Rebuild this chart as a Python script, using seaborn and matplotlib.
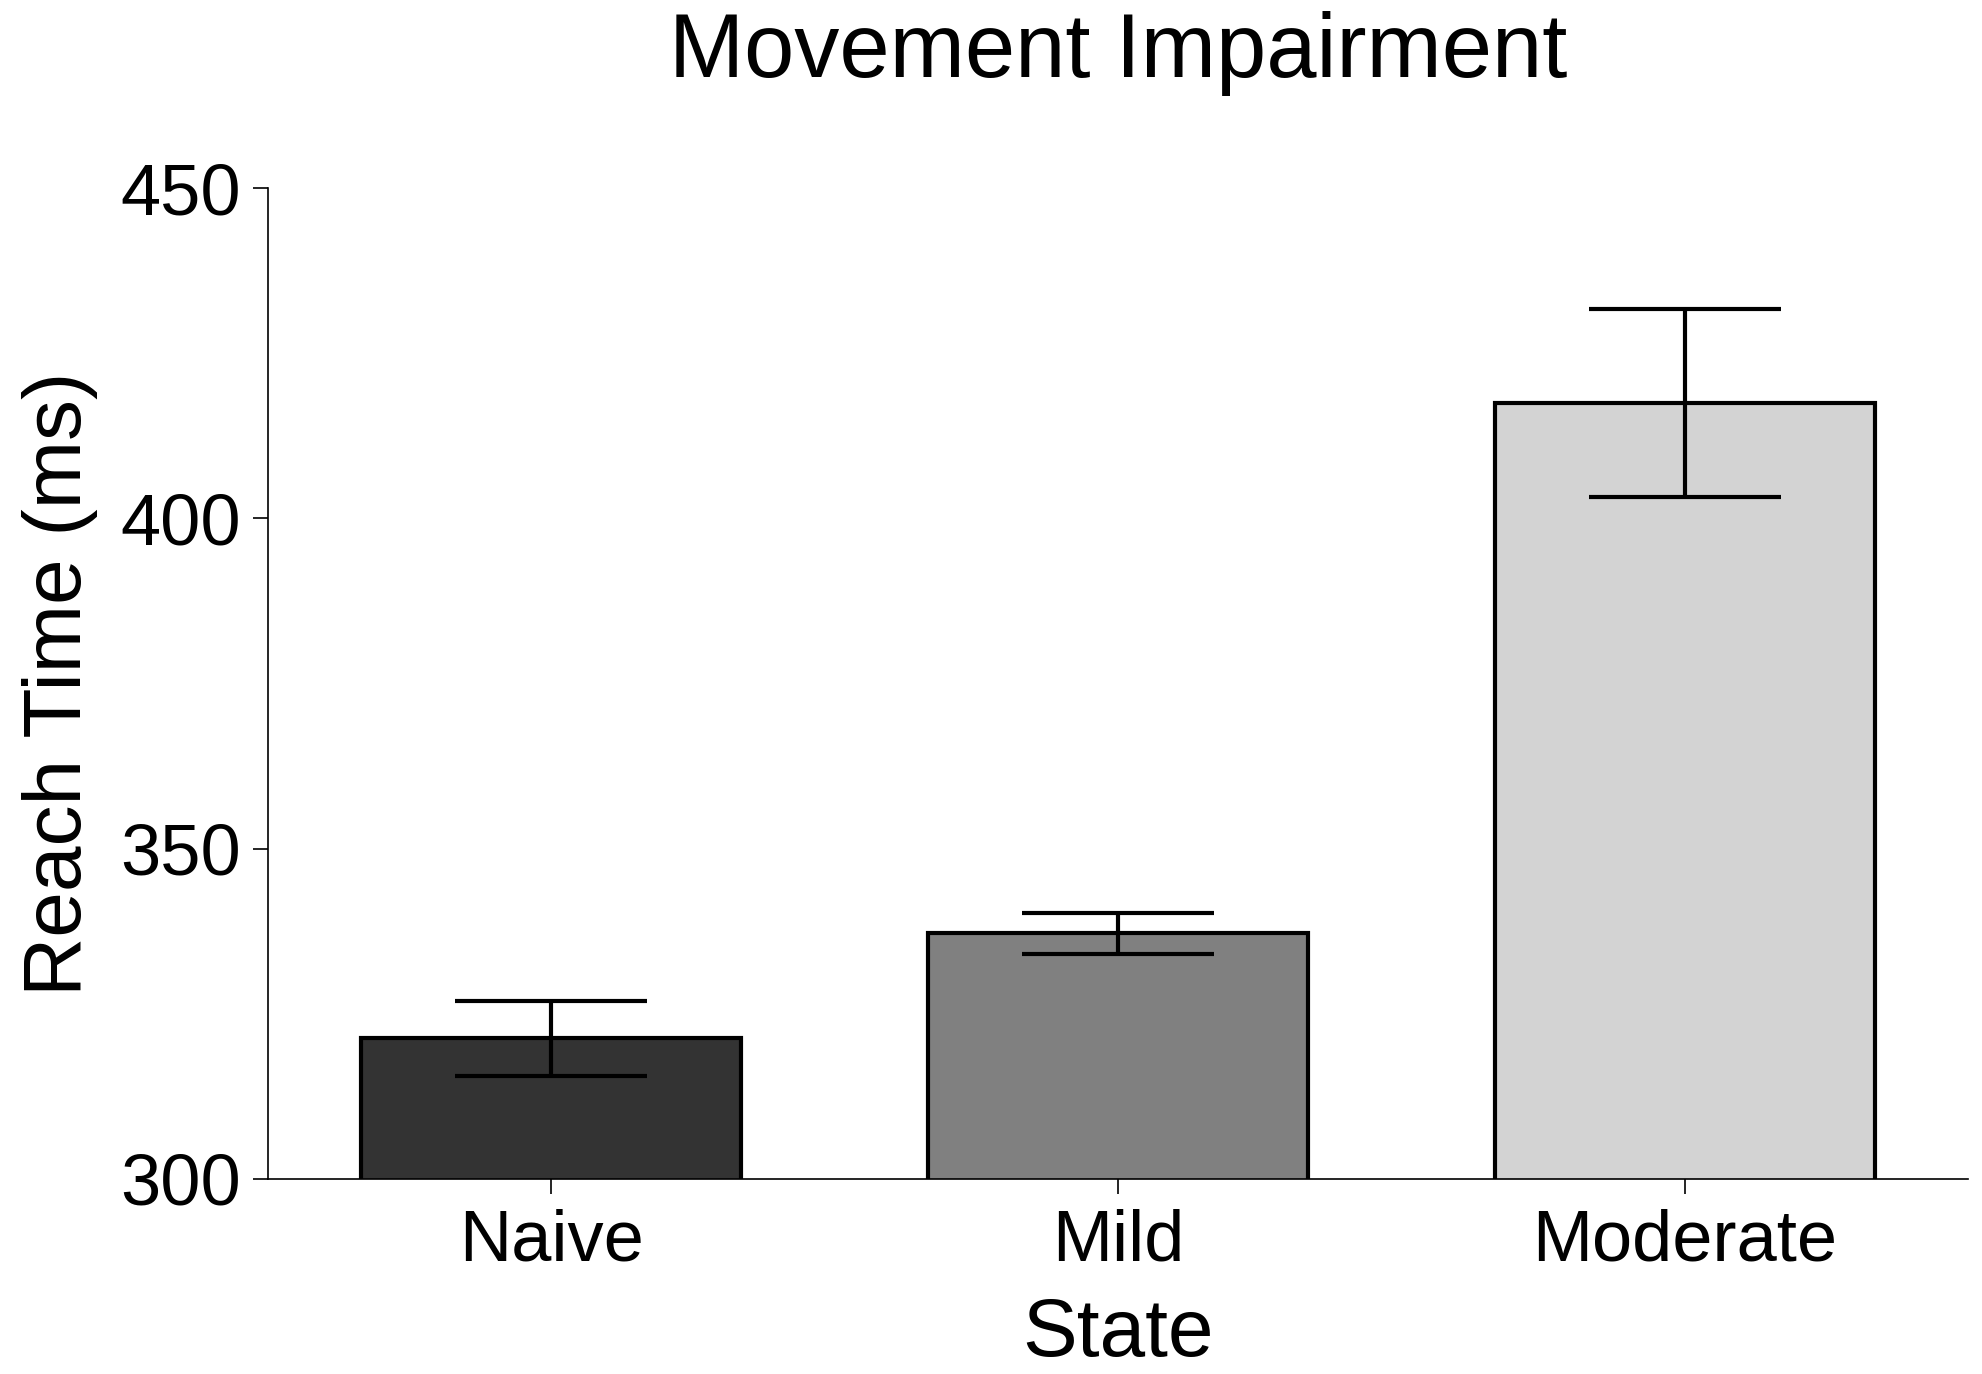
import matplotlib
matplotlib.use("Agg")
import matplotlib.pyplot as plt
import seaborn as sns
import pandas as pd

# Data
states = ["Naive", "Mild", "Moderate"]
reach_time = [321.3, 337.2, 417.5]
reach_err = [5.7, 3.1, 14.2]
bar_colors = ["#333333", "#808080", "#d3d3d3"]

df = pd.DataFrame({"State": states, "Reach Time (ms)": reach_time})

sns.set_style("ticks")
plt.rcParams["font.family"] = ["Liberation Sans", "DejaVu Sans"]
plt.rcParams["text.color"] = "black"
plt.rcParams["axes.labelcolor"] = "black"
plt.rcParams["xtick.color"] = "black"
plt.rcParams["ytick.color"] = "black"

fig = plt.figure(figsize=(19.83, 13.74), dpi=100)
ax = fig.add_axes([0.135, 0.142, 0.8575, 0.721])

sns.barplot(data=df, x="State", y="Reach Time (ms)", hue="State",
            palette=bar_colors, legend=False, errorbar=None,
            width=0.67, edgecolor="black", linewidth=3, ax=ax)

# error bars (SEM) on top of the bars
ax.errorbar(x=range(len(states)), y=reach_time, yerr=reach_err,
            fmt="none", ecolor="black", elinewidth=3,
            capsize=69, capthick=3, zorder=5)

ax.set_ylim(300, 450)
ax.set_yticks([300, 350, 400, 450])
ax.set_xlim(-0.5, 2.5)

ax.set_title("Movement Impairment", fontsize=65, pad=80, color="black")
ax.set_xlabel("State", fontsize=59, labelpad=16)
ax.set_ylabel("Reach Time (ms)", fontsize=59, labelpad=16)
ax.tick_params(axis="both", labelsize=52, length=11, width=1.2,
               direction="out", color="black", labelcolor="black")
ax.tick_params(axis="y", pad=8)
ax.tick_params(axis="x", pad=10)

sns.despine(ax=ax)
for side in ["left", "bottom"]:
    ax.spines[side].set_linewidth(1.2)
    ax.spines[side].set_color("black")

fig.savefig("out.png", dpi=100)
